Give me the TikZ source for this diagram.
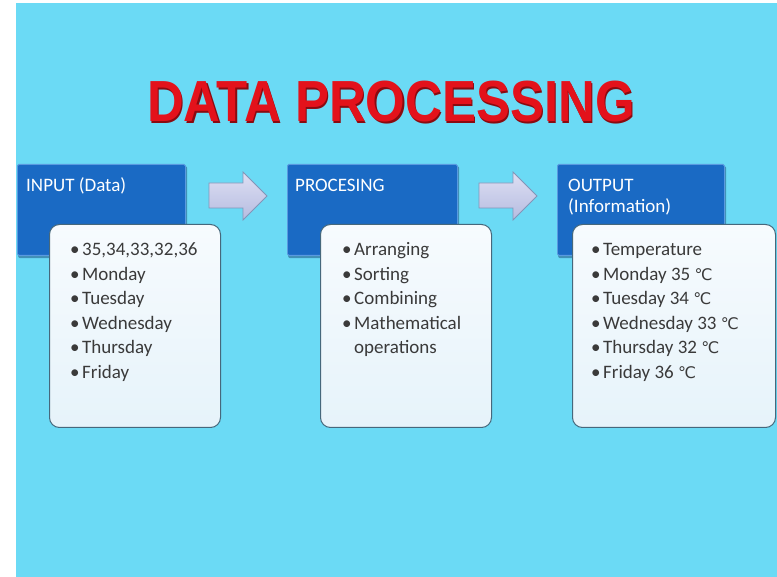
\documentclass[tikz,border=0pt]{standalone}
\usepackage{fontspec}
\setmainfont{Carlito}
\newfontfamily\titlefont{Liberation Sans}
\newfontfamily\symfont{DejaVu Sans}
\definecolor{bg}{HTML}{6BDAF5}
\definecolor{hdrblue}{HTML}{1A6AC4}
\definecolor{hdredge}{HTML}{5A9AE0}
\definecolor{boxtop}{HTML}{F7FBFE}
\definecolor{boxbot}{HTML}{E6F3FA}
\definecolor{boxedge}{HTML}{46687C}
\definecolor{arrtop}{HTML}{DEDFF3}
\definecolor{arrbot}{HTML}{B5BCE0}
\definecolor{arredge}{HTML}{8395B8}
\definecolor{titlered}{HTML}{E3121B}
\definecolor{titleshadow}{HTML}{8A0A10}
\definecolor{itemgray}{HTML}{3A3A3A}
\tikzset{
  hdrbox/.style={draw=hdredge, line width=0.8pt, fill=hdrblue, rounded corners=1.5pt, inner sep=0pt, anchor=north west},
  hdrshade/.style={fill=black!45!hdrblue, opacity=0.45, rounded corners=2pt, inner sep=0pt, anchor=north west},
  card/.style={draw=boxedge, line width=1pt, rounded corners=10pt, top color=boxtop, bottom color=boxbot, inner sep=0pt, anchor=north west},
  hdrtext/.style={text=white, font=\fontsize{19}{20.5}\selectfont, anchor=base west, inner sep=0pt},
  itemtext/.style={text=itemgray, font=\fontsize{19}{24}\selectfont, anchor=base west, inner sep=0pt},
  blockarrow/.style={draw=arredge, line width=0.8pt, top color=arrtop, bottom color=arrbot, line join=miter},
  titletext/.style={font=\titlefont\bfseries\fontsize{58}{60}\selectfont, anchor=base, inner sep=0pt}
}
\newcommand{\bul}[1]{\makebox[12pt][l]{•}#1}
\newcommand{\degc}{{\symfont\fontsize{16}{18}\selectfont ℃}}
\begin{document}
\begin{tikzpicture}[x=1pt,y=-1pt]
\useasboundingbox (0,0) rectangle (777,577);
\fill[white] (0,0) rectangle (777,577);
\fill[bg] (16,3) rectangle (777,577);
% title
\node[titletext, text=titleshadow] (ttlsh) at (392.2,123.2) {\scalebox{0.878}[1]{DATA PROCESSING}};
\node[titletext, text=titlered] (ttl) at (391,122) {\scalebox{0.878}[1]{DATA PROCESSING}};
% header boxes
\node[hdrshade, minimum width=169pt, minimum height=92pt] (s1) at (18,166) {};
\node[hdrshade, minimum width=171pt, minimum height=92pt] (s2) at (288,166) {};
\node[hdrshade, minimum width=168pt, minimum height=92pt] (s3) at (558,166) {};
\node[hdrbox, minimum width=168pt, minimum height=91pt] (h1) at (17,164) {};
\node[hdrbox, minimum width=170pt, minimum height=91pt] (h2) at (287,164) {};
\node[hdrbox, minimum width=167pt, minimum height=91pt] (h3) at (557,164) {};
\node[hdrtext] (t1) at (26,192) {INPUT (Data)};
\node[hdrtext] (t2) at (295,192) {PROCESING};
\node[hdrtext] (t3) at (568,192) {OUTPUT};
\node[hdrtext] (t3b) at (568,212.5) {(Information)};
% arrows
\draw[blockarrow] (209,183) -- (243,183) -- (243,172) -- (267,196) -- (243,220) -- (243,208) -- (209,208) -- cycle;
\draw[blockarrow] (479,183) -- (513,183) -- (513,172) -- (537,196) -- (513,220) -- (513,208) -- (479,208) -- cycle;
% cards
\node[card, minimum width=171pt, minimum height=203pt] (c1) at (49,224) {};
\node[card, minimum width=171pt, minimum height=203pt] (c2) at (320,224) {};
\node[card, minimum width=203pt, minimum height=203pt] (c3) at (572,224) {};
% items
\foreach \t [count=\i] in {{35,34,33,32,36},Monday,Tuesday,Wednesday,Thursday,Friday}
  \node[itemtext] (a\i) at (70,{256+24.5*(\i-1)}) {\bul{\t}};
\foreach \t [count=\i] in {Arranging,Sorting,Combining,Mathematical}
  \node[itemtext] (b\i) at (342,{256+24.5*(\i-1)}) {\bul{\t}};
\node[itemtext] (b5) at (354,{256+24.5*4}) {operations};
\foreach \t [count=\i] in {Temperature,Monday 35 \degc,Tuesday 34 \degc,Wednesday 33 \degc,Thursday 32 \degc,Friday 36 \degc}
  \node[itemtext] (o\i) at (591,{256+24.5*(\i-1)}) {\bul{\t}};
\end{tikzpicture}
\end{document}
